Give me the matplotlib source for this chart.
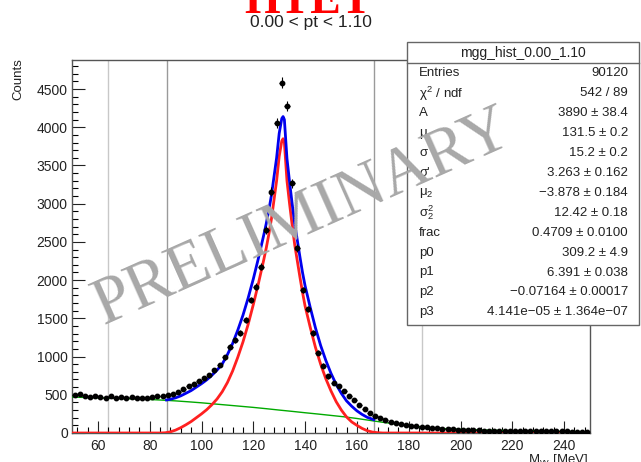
import numpy as np
import matplotlib
matplotlib.use("Agg")
import matplotlib.pyplot as plt
from matplotlib.ticker import MultipleLocator

# ---------------- data ----------------
bin_centers = list(range(51, 250, 2))
counts = [495, 505, 482, 470, 490, 472, 462, 478, 455, 468,
          460, 470, 452, 462, 458, 470, 485, 480, 500, 510,
          540, 570, 610, 645, 680,
          715, 760, 820, 890, 990, 1130, 1217, 1309, 1479, 1740,
          1915, 2177, 2657, 3158, 4054, 4585, 4284, 3268, 2421, 1872,
          1623, 1309, 1047, 880, 740,
          660, 610, 550, 490, 430, 370, 310, 260, 225, 195,
          170, 150, 135, 120, 108, 98, 88, 80, 72, 66,
          60, 55, 50, 46, 43,
          40, 38, 36, 34, 32, 31, 30, 29, 28, 27,
          26, 25, 24, 24, 23, 22, 22, 21, 21, 20,
          20, 19, 19, 18, 18]

sig_x = [50, 84, 86, 88, 90, 92, 94, 96, 98, 100, 102, 104, 106, 108, 110, 112,
         114, 116, 118, 120, 122, 124, 125, 126, 127, 128, 129, 130, 131, 131.5,
         132, 133, 134, 135, 136, 137, 138, 139, 140, 142, 144, 146, 148, 150,
         152, 154, 156, 158, 160, 162, 164, 166, 168, 170, 250]
sig_y = [0, 0, 3, 15, 38, 70, 108, 150, 200, 250, 305, 370, 445, 540, 660, 810,
         990, 1190, 1420, 1680, 1960, 2260, 2420, 2600, 2800, 3050, 3300, 3620, 3820, 3850,
         3800, 3300, 3000, 2720, 2460, 2250, 2040, 1840, 1660, 1380, 1120, 900, 710, 550,
         410, 300, 210, 145, 100, 60, 30, 12, 4, 0, 0]

bkg_x = [50, 55, 60, 65, 70, 75, 80, 85, 90, 95, 100, 105, 110, 115, 120, 125,
         130, 135, 140, 145, 150, 155, 160, 165, 170, 175, 180, 185, 190, 195,
         200, 210, 220, 230, 240, 250]
bkg_y = [470, 465, 460, 455, 450, 445, 438, 430, 420, 408, 395, 380, 365, 350, 335, 318,
         300, 283, 265, 248, 230, 212, 190, 165, 140, 118, 98, 80, 65, 55,
         48, 38, 30, 24, 20, 17]

tot_x = [86.5, 88, 90, 92, 94, 96, 98, 100, 102, 104, 106, 108,
         110, 112, 114, 116, 118, 120, 122, 124, 125, 126, 127, 128, 129, 130, 131,
         131.5, 132, 133, 134, 135, 136, 137, 138, 139, 140, 142, 144, 146, 148, 150,
         152, 154, 156, 158, 160, 162, 164, 166.5]
tot_y = [432, 442, 460, 486, 520, 555, 600, 645, 695, 755, 823, 902,
         1025, 1170, 1345, 1540, 1765, 2015, 2290, 2585, 2740, 2915, 3110, 3355, 3600, 3920, 4115,
         4140, 4100, 3590, 3285, 3000, 2735, 2520, 2305, 2100, 1925, 1640, 1375, 1145, 950, 780,
         635, 518, 420, 350, 290, 243, 205, 175]

vlines = [64, 86.5, 166.5, 185]
vline_colors = ["#c8c8c8", "#9a9a9a", "#9a9a9a", "#c8c8c8"]

stats_title = "mgg_hist_0.00_1.10"
stats_names = ["Entries", r"$\chi^2$ / ndf", "A", "μ", "σ", "σ'", r"$\mu_2$",
               r"$\sigma_2^2$", "frac", "p0", "p1", "p2", "p3"]
stats_vals = ["90120", "542 / 89", "3890 ± 38.4", "131.5 ± 0.2", "15.2 ± 0.2",
              "3.263 ± 0.162", "−3.878 ± 0.184", "12.42 ± 0.18", "0.4709 ± 0.0100",
              "309.2 ± 4.9", "6.391 ± 0.038", "−0.07164 ± 0.00017",
              "4.141e−05 ± 1.364e−07"]

# ---------------- figure ----------------
plt.rcParams['font.family'] = ['Liberation Sans', 'DejaVu Sans']
plt.rcParams['mathtext.fontset'] = 'custom'
plt.rcParams['mathtext.rm'] = 'Liberation Sans'
plt.rcParams['mathtext.it'] = 'Liberation Sans'

W, H = 641, 462
fig = plt.figure(figsize=(W / 100, H / 100), dpi=100)
ax = fig.add_axes([72 / W, 1 - 433 / H, (590 - 72) / W, (433 - 60) / H])

for xv, c in zip(vlines, vline_colors):
    ax.axvline(xv, color=c, lw=1.0, zorder=1)

ax.plot(bkg_x, bkg_y, color="#00aa00", lw=1.0, zorder=3)
ax.plot(sig_x, sig_y, color="#ff2020", lw=2.0, zorder=4)
ax.plot(tot_x, tot_y, color="#0000ee", lw=2.0, zorder=5)

yerr = np.sqrt(np.array(counts, dtype=float))
ax.errorbar(bin_centers, counts, xerr=1.0, yerr=yerr, fmt="o", ms=3.2,
            color="black", ecolor="black", elinewidth=0.8, capsize=0, zorder=6)

ax.set_xlim(50, 250)
ax.set_ylim(0, 4880)
ax.xaxis.set_major_locator(MultipleLocator(20))
ax.xaxis.set_minor_locator(MultipleLocator(4))
ax.yaxis.set_major_locator(MultipleLocator(500))
ax.yaxis.set_minor_locator(MultipleLocator(100))
ax.tick_params(axis="both", which="major", direction="in", length=9, width=0.8,
               labelsize=10, colors="#222222", top=False, right=False)
ax.tick_params(axis="both", which="minor", direction="in", length=4.5, width=0.8,
               top=False, right=False)
ax.tick_params(axis="x", pad=4)
ax.tick_params(axis="y", pad=3)
for s in ax.spines.values():
    s.set_color("#555555")
    s.set_linewidth(1.0)

fig.text(18 / W, 1 - 58 / H, "Counts", rotation=90, ha="center", va="top",
         fontsize=9.5, color="#222222")
fig.text(588 / W, 1 - 452 / H, r"M$_{\gamma\gamma}$ [MeV]", ha="right", va="top",
         fontsize=9.5, color="#222222")

fig.text(311 / W, 1 - 23 / H, "0.00 < pt < 1.10", ha="center", va="center",
         fontsize=12.5, color="#222222")
fig.text(308 / W, 1 - 13 / H, "HTET", ha="center", va="baseline",
         fontsize=33, color="#ff0000", family=["Liberation Serif"], weight="bold")

# stats box
bx0, bx1, by0, by1 = 407, 639, 42, 325
box = plt.Rectangle((bx0 / W, 1 - by1 / H), (bx1 - bx0) / W, (by1 - by0) / H,
                    transform=fig.transFigure, facecolor="white",
                    edgecolor="#666666", lw=1.0, zorder=10)
fig.patches.append(box)
fig.lines.append(plt.Line2D([bx0 / W, bx1 / W], [1 - 63 / H, 1 - 63 / H],
                            transform=fig.transFigure, color="#666666", lw=1.0, zorder=11))
fig.text((bx0 + bx1) / 2 / W, 1 - 52.5 / H, stats_title, ha="center", va="center",
         fontsize=10, color="#222222", zorder=12)
row0, dy = 73.5, 19.9
for i, (n, v) in enumerate(zip(stats_names, stats_vals)):
    yy = 1 - (row0 + i * dy) / H
    fig.text(419 / W, yy, n, ha="left", va="center", fontsize=9.5,
             color="#222222", zorder=12)
    fig.text(628 / W, yy, v, ha="right", va="center", fontsize=9.5,
             color="#222222", zorder=12)

# watermark (drawn above the stats box, as in the reference)
fig.text(303 / W, 1 - 218 / H, "PRELIMINARY", rotation=24,
         ha="center", va="center", fontsize=48, color="#a8a8a8",
         family=["Liberation Serif"], zorder=20)

fig.savefig("out.png", dpi=100)
